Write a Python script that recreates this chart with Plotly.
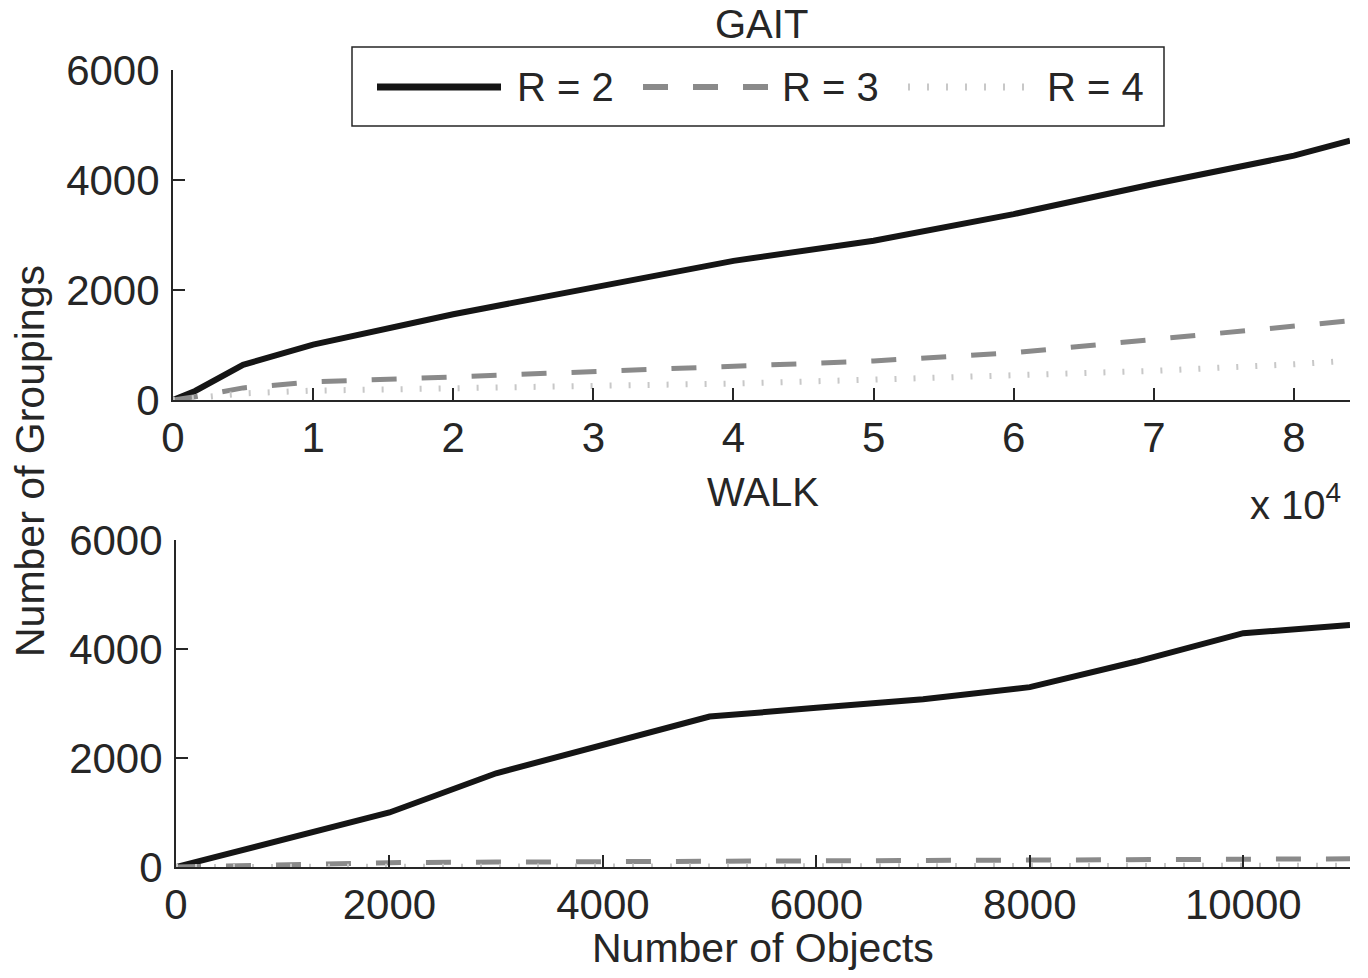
import plotly.graph_objects as go

# ---------------- data ----------------
series_names = ["R = 2", "R = 3", "R = 4"]

gait_x = [0, 1580, 5000, 10000, 20000, 30000, 40000, 50000, 60000, 70000, 80000, 84000]
gait_r2 = [0, 165, 640, 1006, 1560, 2043, 2530, 2897, 3380, 3927, 4442, 4715]
gait_r3 = [0, 60, 220, 330, 420, 510, 610, 710, 860, 1100, 1340, 1440]
gait_r4 = [0, 40, 120, 170, 210, 260, 300, 370, 440, 530, 650, 715]

walk_x = [0, 1000, 2000, 3000, 4000, 5000, 6000, 7000, 8000, 9000, 10000, 11000]
walk_r2 = [0, 490, 1000, 1720, 2240, 2760, 2920, 3080, 3300, 3770, 4290, 4440]
walk_r3 = [0, 50, 80, 90, 100, 110, 110, 120, 120, 130, 140, 150]
walk_r4 = [0, 5, 8, 10, 12, 14, 15, 16, 18, 20, 22, 25]

y_ticks = [0, 2000, 4000, 6000]
y_ticklabels = ["0", "2000", "4000", "6000"]
gait_xticks = [0, 10000, 20000, 30000, 40000, 50000, 60000, 70000, 80000]
gait_xticklabels = ["0", "1", "2", "3", "4", "5", "6", "7", "8"]
walk_xticks = [0, 2000, 4000, 6000, 8000, 10000]
walk_xticklabels = ["0", "2000", "4000", "6000", "8000", "10000"]

# ---------------- styling ----------------
FONT = "Liberation Sans, Arial, sans-serif"
TXT = "#262626"
styles = [
    dict(color="#151515", width=6, dash="solid"),
    dict(color="#8a8a8a", width=5, dash="25px,25px"),
    dict(color="#c8c8c8", width=6, dash="2px,17px"),
]

# page body has an 8px margin -> figure is drawn at (8, 8)
OFF = 8
W, H = 1368 - OFF, 978 - OFF
ML, MR, MT, MB = 173 - OFF, 18, 70 - OFF, 111
PW = W - ML - MR
PH = H - MT - MB


def px(x):
    return (x - OFF - ML) / PW


def py(y):
    return (H - MB - (y - OFF)) / PH


fig = go.Figure()

for name, ys, st in zip(series_names, [gait_r2, gait_r3, gait_r4], styles):
    fig.add_trace(go.Scatter(x=gait_x, y=ys, mode="lines", name=name,
                             line=st, xaxis="x", yaxis="y", showlegend=False))
for name, ys, st in zip(series_names, [walk_r2, walk_r3, walk_r4], styles):
    fig.add_trace(go.Scatter(x=walk_x, y=ys, mode="lines", name=name,
                             line=st, xaxis="x2", yaxis="y2", showlegend=False))

axis_common = dict(
    showline=True, linecolor=TXT, linewidth=2, mirror=False,
    ticks="inside", ticklen=12, tickwidth=2, tickcolor=TXT,
    showgrid=False, zeroline=False,
    tickfont=dict(family=FONT, size=42, color=TXT),
)

fig.update_layout(
    width=W, height=H,
    margin=dict(l=ML, r=MR, t=MT, b=MB),
    paper_bgcolor="white", plot_bgcolor="white",
    showlegend=False,
    xaxis=dict(domain=[0, 1], range=[0, 84000], tickvals=gait_xticks,
               ticktext=gait_xticklabels, anchor="y", ticklabelstandoff=0,
               **axis_common),
    yaxis=dict(domain=[py(400), 1.0], range=[0, 6000], tickvals=y_ticks,
               ticktext=y_ticklabels, anchor="x", ticklabelstandoff=3,
               **axis_common),
    xaxis2=dict(domain=[px(176), 1], range=[0, 11000], tickvals=walk_xticks,
                ticktext=walk_xticklabels, anchor="y2", ticklabelstandoff=0,
                **axis_common),
    yaxis2=dict(domain=[0, py(540)], range=[0, 6000], tickvals=y_ticks,
                ticktext=y_ticklabels, anchor="x2", ticklabelstandoff=3,
                **axis_common),
)

ann_font = dict(family=FONT, size=40, color=TXT)
annotations = [
    dict(text="GAIT", x=0.5, y=py(24), xref="paper", yref="paper",
         xanchor="center", yanchor="middle", showarrow=False, font=ann_font),
    dict(text="WALK", x=px(763), y=py(492), xref="paper", yref="paper",
         xanchor="center", yanchor="middle", showarrow=False, font=ann_font),
    dict(text="x 10<sup>4</sup>", x=px(1343), y=py(502), xref="paper", yref="paper",
         xanchor="right", yanchor="middle", showarrow=False, font=ann_font),
    dict(text="Number of Groupings", x=px(30), y=py(461), xref="paper", yref="paper",
         xanchor="center", yanchor="middle", textangle=-90, showarrow=False,
         font=dict(family=FONT, size=41, color=TXT)),
    dict(text="Number of Objects", x=px(763), y=py(948), xref="paper", yref="paper",
         xanchor="center", yanchor="middle", showarrow=False,
         font=dict(family=FONT, size=41, color=TXT)),
]

# legend (drawn in paper coordinates)
shapes = [dict(type="rect", xref="paper", yref="paper",
               x0=px(352), x1=px(1164), y0=py(126), y1=py(47),
               line=dict(color=TXT, width=1.5), fillcolor="white", layer="above")]
leg_lines = [(377, 501), (643, 768), (908, 1035)]
leg_text_x = [515, 780, 1045]
for (a, b), tx, st, name in zip(leg_lines, leg_text_x, styles, series_names):
    shapes.append(dict(type="line", xref="paper", yref="paper",
                       x0=px(a), x1=px(b), y0=py(87), y1=py(87),
                       line=dict(color=st["color"], width=st["width"] + 1, dash=st["dash"]),
                       layer="above"))
    annotations.append(dict(text=name, x=px(tx), y=py(87), xref="paper", yref="paper",
                            xanchor="left", yanchor="middle", showarrow=False,
                            font=ann_font))

fig.update_layout(annotations=annotations, shapes=shapes)

fig.write_html("out.html")
